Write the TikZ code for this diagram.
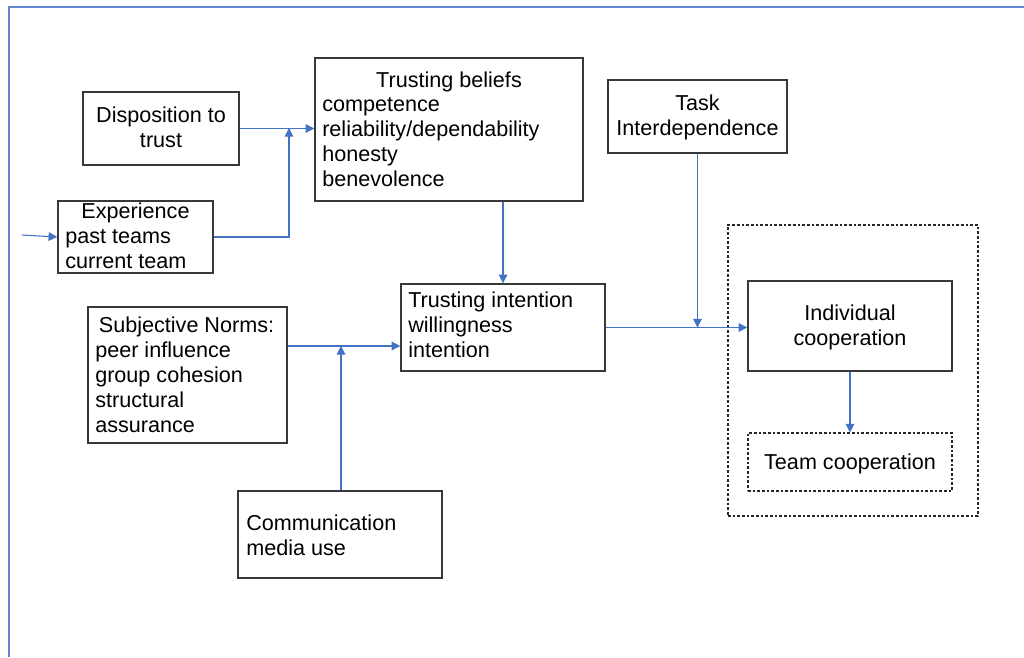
\documentclass[tikz,border=0pt]{standalone}
\usepackage{fontspec}
\setmainfont{Liberation Sans}
\usetikzlibrary{arrows.meta}
\definecolor{linkblue}{HTML}{4472C4}
\begin{document}
\begin{tikzpicture}[x=0.75pt,y=-0.75pt,
  box/.style={draw=black!78, line width=1.1pt, fill=white, inner sep=0},
  dotbox/.style={draw=black!85, line width=0.8pt, dash pattern=on 2pt off 1.5pt, inner sep=0},
  txt/.style={font=\fontsize{16.2pt}{18.75pt}\selectfont, inner sep=0, text=black},
  arr/.style={draw=linkblue, line width=0.8pt, -{Triangle[length=6.5pt,width=6.5pt]}},
  frameline/.style={draw=linkblue!85, line width=1.2pt}
]
\useasboundingbox (0,0) rectangle (1024,657);

% page frame
\draw[frameline] (1024,7) -- (9,7) -- (9,657);

% outer group of the cooperation outcomes
\node[dotbox, minimum width=187.5pt, minimum height=218.25pt] (outcomes) at (853,370.5) {};

% boxes
\node[box, minimum width=117pt,    minimum height=54.75pt]  (disp)    at (161,128.5) {};
\node[box, minimum width=116.25pt, minimum height=54pt]     (exp)     at (135.5,237) {};
\node[box, minimum width=201pt,    minimum height=107.25pt] (beliefs) at (449,129.5) {};
\node[box, minimum width=134.25pt, minimum height=54.75pt]  (task)    at (697.5,116.5) {};
\node[box, minimum width=153pt,    minimum height=65.25pt]  (intent)  at (503,327.5) {};
\node[box, minimum width=149.25pt, minimum height=102pt]    (norms)   at (187.5,375) {};
\node[box, minimum width=153pt,    minimum height=65.25pt]  (comm)    at (340,534.5) {};
\node[box, minimum width=153pt,    minimum height=67.5pt]   (indiv)   at (850,326) {};
\node[dotbox, fill=white, minimum width=153pt, minimum height=43.5pt] (team) at (850,462) {};

% texts
\node[txt, align=center, anchor=north] (disptxt) at (161,104.5) {\strut Disposition to\\trust};
\node[txt, anchor=base] (exphead) at (135.5,218) {Experience};
\node[txt, align=left, anchor=north west] (explist) at (65,225.5) {\strut past teams\\current team};
\node[txt, anchor=base] (belhead) at (449,87) {Trusting beliefs};
\node[txt, align=left, anchor=north west] (bellist) at (322,93.5)
  {\strut competence\\reliability/dependability\\honesty\\benevolence};
\node[txt, align=center, anchor=north] (tasktxt) at (697.5,92.5) {\strut Task\\Interdependence};
\node[txt, align=left, anchor=north west] (inttxt) at (408,289.5)
  {\strut Trusting intention\\willingness\\intention};
\node[txt, anchor=base] (normhead) at (186.5,332) {Subjective Norms:};
\node[txt, align=left, anchor=north west] (normlist) at (95,339.5)
  {\strut peer influence\\group cohesion\\structural\\assurance};
\node[txt, align=left, anchor=north west] (commtxt) at (246,512.5) {\strut Communication\\media use};
\node[txt, align=center, anchor=north] (indivtxt) at (850,302.5) {\strut Individual\\cooperation};
\node[txt, anchor=base] (teamtxt) at (850,469) {Team cooperation};

% junction points and free ends
\coordinate (src) at (22,235);
\coordinate (jexp) at (289,128);
\coordinate (jcomm) at (341,346);

% connectors
\draw[arr] (disp.east) -- (disp.east -| beliefs.west);
\draw[arr] (exp.east) -| (jexp);
\draw[arr] (src) -- (exp.west);
\draw[arr] (beliefs.south -| intent.north) -- (intent.north);
\draw[arr] (norms.east |- jcomm) -- (intent.west |- jcomm);
\draw[arr] (comm.north -| jcomm) -- (jcomm);
\draw[arr] (intent.east) -- (intent.east -| indiv.west);
\draw[arr] (task.south) -- (task.south |- intent.east);
\draw[arr] (indiv.south) -- (team.north);
\end{tikzpicture}
\end{document}
